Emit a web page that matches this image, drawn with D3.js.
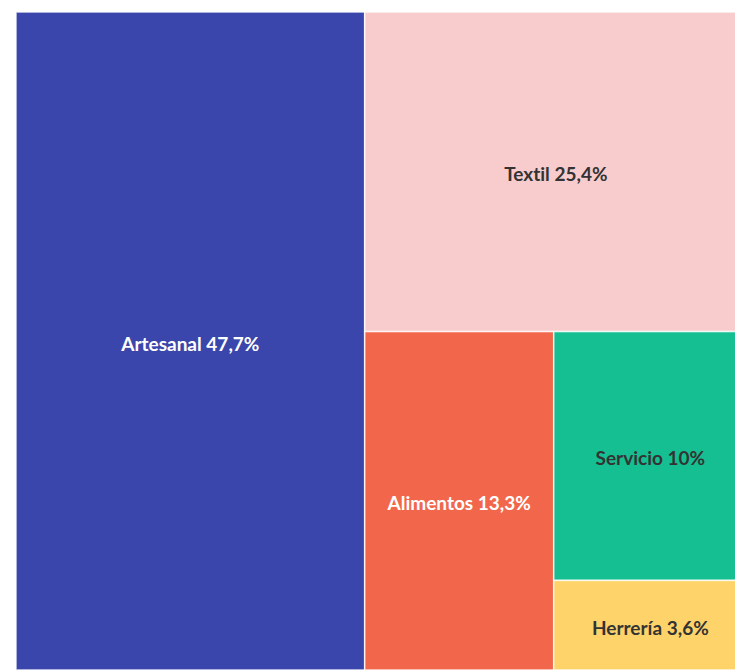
<!DOCTYPE html>
<html>
<head>
<meta charset="utf-8">
<script src="https://cdn.jsdelivr.net/npm/d3@7/dist/d3.min.js"></script>
<style>
  body { margin: 0; background: #fff; }
  svg { display: block; overflow: hidden; }
  .label { font-family: Lato, sans-serif; font-weight: 700; font-size: 19px; font-variant-ligatures: none; }
</style>
</head>
<body>
<div id="chart"></div>
<script>
const WIDTH = 735; // page width
const HEIGHT = 670; // page height

const categories = ["Artesanal", "Textil", "Alimentos", "Servicio", "Herrería"];
const shares = [47.7, 25.4, 13.3, 10, 3.6];
const shareLabels = ["47,7%", "25,4%", "13,3%", "10%", "3,6%"];
const colors = ["#3a46ab", "#f8cccd", "#f2674b", "#15bf91", "#fed36a"];
const textColors = ["#ffffff", "#333333", "#ffffff", "#333333", "#333333"];

const rows = categories.map((c, i) => ({name: c, value: shares[i], label: shareLabels[i], i: i}));

const root = d3.hierarchy({children: rows})
  .sum(d => d.value || 0)
  .sort((a, b) => b.value - a.value);

d3.treemap()
  .tile(d3.treemapSquarify.ratio(1)) // plain squarify gives this layout
  .size([731, 658]) // the chart runs a bit past the right edge of the page
  (root);

const svg = d3.select("#chart")
  .append("svg")
  .attr("width", WIDTH)
  .attr("height", HEIGHT);

const g = svg.append("g").attr("transform", "translate(16,12)");

const cell = g.selectAll(".cell")
  .data(root.leaves())
  .enter()
  .append("g")
  .attr("class", "cell")
  .attr("transform", d => `translate(${d.x0},${d.y0})`);

cell.append("rect")
  .attr("width", d => d.x1 - d.x0)
  .attr("height", d => d.y1 - d.y0)
  .attr("fill", d => colors[d.data.i])
  .attr("stroke", "#ffffff")
  .attr("stroke-opacity", 0.8)
  .attr("stroke-width", 1.5);

cell.append("text")
  .attr("class", "label")
  .attr("x", d => (d.x1 - d.x0) / 2)
  .attr("y", d => (d.y1 - d.y0) / 2 + 2)
  .attr("text-anchor", "middle")
  .attr("dominant-baseline", "central")
  .attr("fill", d => textColors[d.data.i])
  .text(d => d.data.name + " " + d.data.label);
</script>
</body>
</html>
